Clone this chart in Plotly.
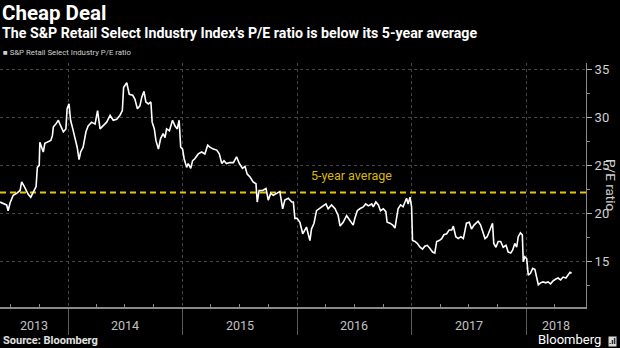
import plotly.graph_objects as go

# ---- data ----
dates = [
    "2013-05-29", "2013-06-09", "2013-06-19", "2013-06-24", "2013-06-30", "2013-07-10", "2013-07-21",
    "2013-08-01", "2013-08-06", "2013-08-13", "2013-08-20", "2013-08-27", "2013-09-04", "2013-09-12",
    "2013-09-21", "2013-09-25", "2013-10-01", "2013-10-03", "2013-10-09", "2013-10-14", "2013-10-19",
    "2013-10-30", "2013-11-07", "2013-11-12", "2013-11-15", "2013-11-23", "2013-12-01", "2013-12-06",
    "2013-12-17", "2013-12-25", "2013-12-29", "2014-01-04", "2014-01-09", "2014-01-16", "2014-01-23",
    "2014-01-30", "2014-02-05", "2014-02-10", "2014-02-18", "2014-02-27", "2014-03-06", "2014-03-17",
    "2014-03-28", "2014-04-05", "2014-04-13", "2014-04-23", "2014-05-04", "2014-05-15", "2014-05-25",
    "2014-06-05", "2014-06-15", "2014-06-23", "2014-06-27", "2014-07-07", "2014-07-15", "2014-07-26",
    "2014-08-02", "2014-08-10", "2014-08-18", "2014-08-24", "2014-08-31", "2014-09-06", "2014-09-14",
    "2014-09-22", "2014-09-26", "2014-10-03", "2014-10-08", "2014-10-16", "2014-10-23", "2014-10-31",
    "2014-11-06", "2014-11-11", "2014-11-20", "2014-11-30", "2014-12-08", "2014-12-15", "2014-12-21",
    "2014-12-26", "2015-01-01", "2015-01-06", "2015-01-14", "2015-01-19", "2015-01-27", "2015-02-02",
    "2015-02-09", "2015-02-20", "2015-03-03", "2015-03-13", "2015-03-22", "2015-03-29", "2015-04-09",
    "2015-04-20", "2015-04-28", "2015-05-06", "2015-05-13", "2015-05-21", "2015-06-01", "2015-06-12",
    "2015-06-22", "2015-07-01", "2015-07-11", "2015-07-19", "2015-07-26", "2015-08-04", "2015-08-14",
    "2015-08-23", "2015-08-27", "2015-09-02", "2015-09-13", "2015-09-24", "2015-10-01", "2015-10-09",
    "2015-10-17", "2015-10-28", "2015-11-07", "2015-11-16", "2015-11-23", "2015-12-04", "2015-12-15",
    "2015-12-20", "2015-12-25", "2016-01-01", "2016-01-10", "2016-01-19", "2016-01-26", "2016-01-31",
    "2016-02-06", "2016-02-11", "2016-02-16", "2016-02-24", "2016-03-03", "2016-03-14", "2016-03-24",
    "2016-04-02", "2016-04-09", "2016-04-20", "2016-05-01", "2016-05-11", "2016-05-17", "2016-05-27",
    "2016-06-07", "2016-06-17", "2016-06-28", "2016-07-03", "2016-07-11", "2016-07-19", "2016-07-30",
    "2016-08-07", "2016-08-15", "2016-08-26", "2016-08-31", "2016-09-08", "2016-09-16", "2016-09-23",
    "2016-10-02", "2016-10-10", "2016-10-14", "2016-10-23", "2016-11-01", "2016-11-08", "2016-11-13",
    "2016-11-18", "2016-11-26", "2016-12-04", "2016-12-10", "2016-12-15", "2016-12-20", "2016-12-26",
    "2016-12-31", "2017-01-03", "2017-01-11", "2017-01-18", "2017-01-27", "2017-02-04", "2017-02-11",
    "2017-02-19", "2017-02-27", "2017-03-08", "2017-03-15", "2017-03-21", "2017-03-29", "2017-04-06",
    "2017-04-13", "2017-04-22", "2017-04-30", "2017-05-08", "2017-05-13", "2017-05-21", "2017-05-29",
    "2017-06-06", "2017-06-14", "2017-06-19", "2017-06-24", "2017-07-03", "2017-07-10", "2017-07-18",
    "2017-07-26", "2017-07-31", "2017-08-08", "2017-08-14", "2017-08-22", "2017-08-29", "2017-09-04",
    "2017-09-09", "2017-09-15", "2017-09-19", "2017-09-26", "2017-10-03", "2017-10-11", "2017-10-19",
    "2017-10-28", "2017-11-04", "2017-11-12", "2017-11-18", "2017-11-25", "2017-12-01", "2017-12-06",
    "2017-12-13", "2017-12-19", "2017-12-22", "2017-12-27", "2018-01-02", "2018-01-07", "2018-01-14",
    "2018-01-21", "2018-01-28", "2018-02-02", "2018-02-08", "2018-02-15", "2018-02-23", "2018-03-04",
    "2018-03-11", "2018-03-19", "2018-03-27", "2018-04-05", "2018-04-12", "2018-04-20", "2018-04-28",
    "2018-05-07", "2018-05-14", "2018-05-20", "2018-05-25",
]
pe_ratio = [
    21.2, 21.0, 20.9, 20.3, 21.1, 21.9, 22.1,
    22.4, 23.3, 22.9, 22.4, 22.0, 21.7, 22.2,
    22.8, 24.8, 25.0, 27.4, 26.9, 26.4, 27.3,
    27.5, 27.6, 28.1, 29.0, 29.3, 29.7, 29.3,
    28.5, 28.8, 30.9, 31.4, 29.7, 28.8, 27.8,
    26.9, 25.6, 26.4, 26.9, 28.5, 29.1, 29.5,
    29.3, 30.7, 28.8, 29.1, 29.5, 30.2, 29.7,
    29.8, 30.2, 30.7, 33.1, 33.6, 32.4, 32.3,
    31.9, 30.9, 31.2, 32.1, 32.7, 31.6, 31.4,
    31.6, 29.5, 28.8, 27.6, 26.7, 27.8, 28.3,
    27.9, 28.8, 28.6, 29.7, 29.1, 28.8, 29.7,
    26.9, 26.7, 25.7, 24.8, 25.2, 24.7, 25.5,
    25.7, 26.2, 26.4, 26.2, 27.1, 26.9, 26.7,
    26.6, 26.2, 25.2, 25.5, 25.2, 25.3, 25.3,
    25.9, 25.2, 24.7, 24.9, 24.1, 23.8, 23.3,
    23.1, 21.2, 22.4, 22.4, 22.6, 21.4, 22.1,
    21.9, 22.1, 22.3, 20.5, 21.4, 21.6, 21.2,
    21.2, 19.5, 19.5, 19.1, 17.9, 18.3, 18.6,
    17.8, 17.2, 18.4, 19.0, 20.3, 20.6, 20.8,
    21.0, 20.5, 20.9, 20.5, 19.8, 18.7, 19.1,
    19.8, 19.3, 18.8, 19.5, 20.3, 20.5, 20.7,
    21.0, 20.8, 21.0, 20.7, 21.2, 20.9, 20.3,
    20.5, 20.2, 19.1, 19.0, 18.8, 18.5, 19.6,
    20.5, 20.9, 20.7, 21.2, 21.6, 21.0, 21.7,
    20.7, 17.2, 17.1, 16.9, 16.5, 16.3, 16.6,
    16.7, 16.4, 16.0, 15.9, 17.1, 17.2, 17.4,
    17.8, 17.9, 18.3, 18.3, 18.7, 17.6, 17.4,
    17.6, 17.4, 18.1, 19.0, 19.1, 18.4, 18.8,
    19.0, 19.2, 18.8, 18.1, 17.4, 17.6, 18.1,
    18.6, 19.0, 16.9, 16.5, 17.1, 17.1, 16.5,
    16.7, 16.0, 15.9, 16.2, 16.9, 16.5, 17.6,
    18.0, 17.8, 15.0, 15.5, 15.3, 13.6, 13.8,
    14.3, 14.2, 13.4, 12.6, 12.8, 12.9, 12.8,
    12.9, 12.7, 13.0, 13.2, 13.3, 13.1, 13.4,
    13.3, 13.6, 13.9, 13.8,
]
five_year_average = 22.2
x_range = ["2013-05-29", "2018-07-10"]
y_range = [10.29, 35.65]
y_ticks = [15, 20, 25, 30, 35]
y_minor = [12.5, 17.5, 22.5, 27.5, 32.5]
year_bounds = ["2014-01-01", "2015-01-01", "2016-01-01", "2017-01-01", "2018-01-01"]
quarter_marks = ["2013-07-01", "2013-10-01", "2014-04-01", "2014-07-01", "2014-10-01",
                 "2015-04-01", "2015-07-01", "2015-10-01", "2016-04-01", "2016-07-01",
                 "2016-10-01", "2017-04-01", "2017-07-01", "2017-10-01", "2018-04-01"]
year_labels = ["2013", "2014", "2015", "2016", "2017", "2018"]
year_label_pos = ["2013-09-14", "2014-07-02", "2015-07-02", "2016-07-02", "2017-07-02", "2018-04-05"]

FONT = "Liberation Sans Narrow, Roboto, Arial"

fig = go.Figure()
fig.add_trace(go.Scatter(
    x=x_range, y=[five_year_average, five_year_average], mode="lines",
    line=dict(color="#e6c700", width=2, dash="6px,4px"), hoverinfo="skip", showlegend=False))
fig.add_trace(go.Scatter(
    x=dates, y=pe_ratio, mode="lines", line=dict(color="#ffffff", width=1.6),
    name="S&P Retail Select Industry P/E ratio", showlegend=False))

ann = []
ann.append(dict(text="<b>Cheap Deal</b>", x=0, y=1.257, xref="paper", yref="paper",
                xanchor="left", yanchor="top", xshift=1, showarrow=False, borderpad=0,
                font=dict(size=20.5, color="#ffffff", family=FONT)))
ann.append(dict(text="<b>The S&P Retail Select Industry Index's P/E ratio is below its 5-year average</b>",
                x=0, y=1.086, xref="paper", yref="paper", xanchor="left", yanchor="bottom",
                xshift=1, showarrow=False, borderpad=0, font=dict(size=14.2, color="#ffffff", family=FONT)))
ann.append(dict(text="■ S&P Retail Select Industry P/E ratio", x=0, y=1.045, xref="paper", yref="paper",
                xanchor="left", yanchor="middle", xshift=2, showarrow=False, borderpad=0,
                font=dict(size=7.8, color="#d0d0d0", family=FONT)))
ann.append(dict(text="5-year average", x="2016-02-07", y=24.0, xref="x", yref="y",
                xanchor="left", yanchor="middle", showarrow=False,
                font=dict(size=12.5, color="#d9b800", family=FONT)))
ann.append(dict(text="P/E ratio", x=1.0425, y=0.5, xref="paper", yref="paper", textangle=90,
                xanchor="center", yanchor="middle", showarrow=False, borderpad=0,
                font=dict(size=13.5, color="#d0d0d0", family=FONT)))
for lab, pos in zip(year_labels, year_label_pos):
    ann.append(dict(text=lab, x=pos, y=-0.074, xref="x", yref="paper", xanchor="center",
                    yanchor="middle", showarrow=False, borderpad=0,
                    font=dict(size=12.5, color="#c0c0c0", family=FONT)))
ann.append(dict(text="<b>Source: Bloomberg</b>", x=0, y=-0.139, xref="paper", yref="paper",
                xanchor="left", yanchor="middle", xshift=2, showarrow=False, borderpad=0,
                font=dict(size=11, color="#e0e0e0", family=FONT)))
ann.append(dict(text="Bloomberg", x=1.028, y=-0.166, xref="paper", yref="paper",
                xanchor="right", yanchor="bottom", showarrow=False, borderpad=0,
                font=dict(size=13, color="#ffffff", family=FONT)))
ann.append(dict(text="<b>.ıl</b>", x=1.046, y=-0.141, xref="paper", yref="paper",
                xanchor="center", yanchor="middle", showarrow=False, bgcolor="#d8d8d8",
                borderpad=0, font=dict(size=8, color="#000000", family=FONT)))

fig.update_layout(
    width=620, height=348, margin=dict(l=0, r=34, t=63, b=41),
    paper_bgcolor="#000000", plot_bgcolor="#000000", showlegend=False,
    annotations=ann,
    xaxis=dict(type="date", range=x_range, tickmode="array", tickvals=year_bounds,
               showticklabels=False, ticks="outside", ticklen=26, tickcolor="#5a5a5a", tickwidth=1,
               showgrid=True, gridcolor="#454545", griddash="dot", gridwidth=1,
               showline=True, linecolor="#8a8a8a", linewidth=2, zeroline=False,
               minor=dict(tickmode="array", tickvals=quarter_marks,
                          ticks="inside", ticklen=3, tickcolor="#8a8a8a", showgrid=False)),
    yaxis=dict(side="right", range=y_range, tickmode="array", tickvals=y_ticks,
               ticks="outside", ticklen=5, tickcolor="#b0b0b0",
               tickfont=dict(size=13, color="#d0d0d0", family=FONT),
               showgrid=True, gridcolor="#454545", griddash="dot", gridwidth=1,
               showline=True, linecolor="#8a8a8a", linewidth=1, zeroline=False,
               minor=dict(tickmode="array", tickvals=y_minor, ticks="outside", ticklen=3,
                          tickcolor="#8a8a8a", showgrid=False)),
)

fig.write_html("out.html")
